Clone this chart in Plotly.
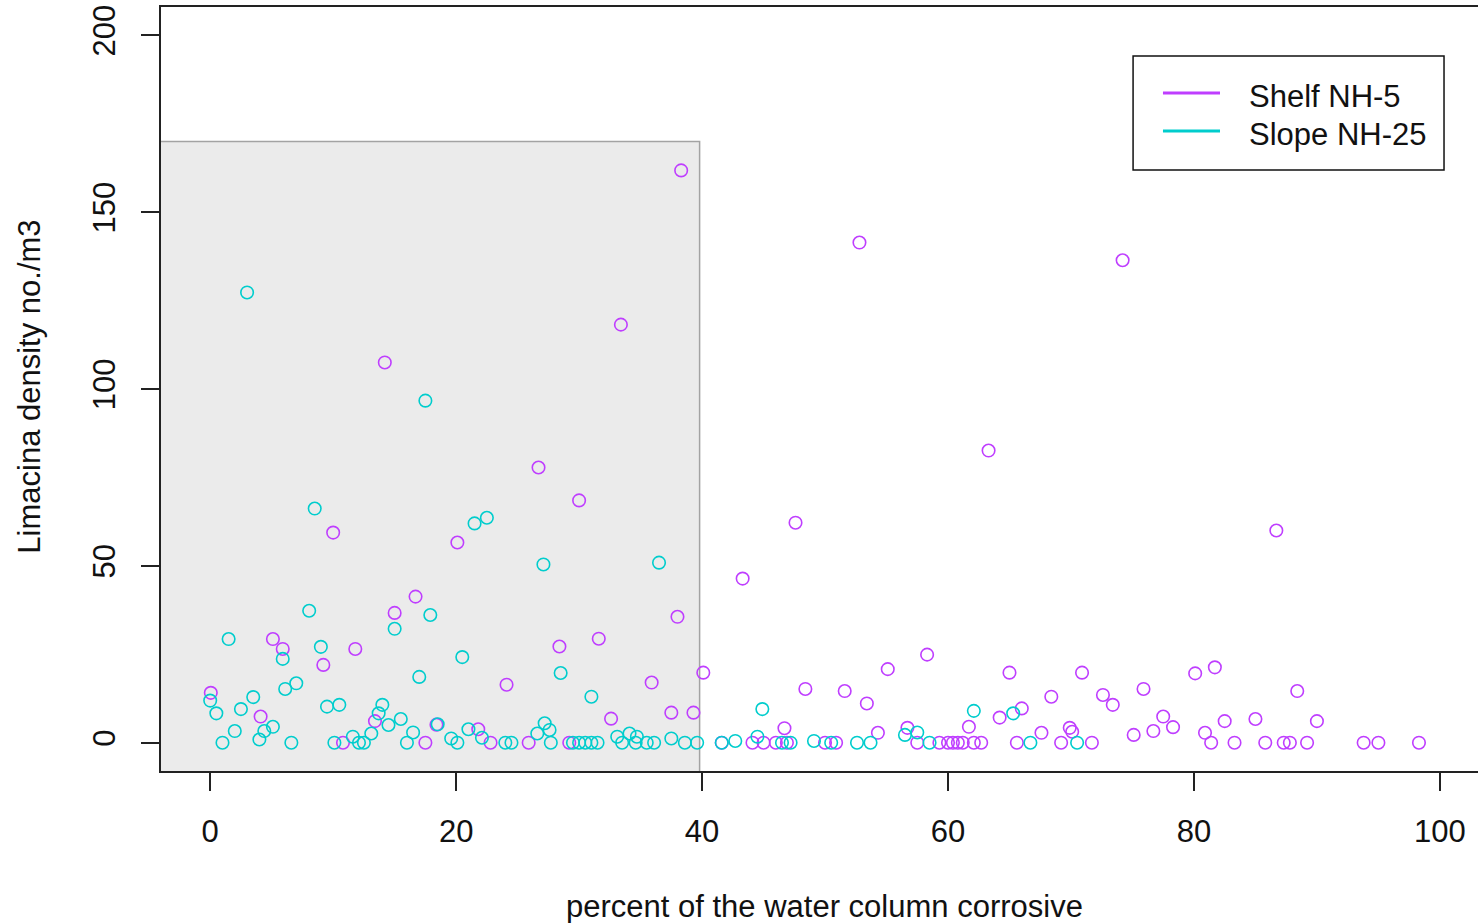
import plotly.graph_objects as go

# Shelf station NH-5: percent of water column corrosive vs Limacina density
shelf_pct = [0.05, 4.1, 5.1, 5.9, 9.2, 10.0, 10.8, 11.8, 13.4, 14.2, 15.0, 16.7, 17.5, 18.4,
             20.1, 21.8, 22.8, 24.1, 25.9, 26.7, 28.4, 29.2, 30.0, 31.6, 32.6, 33.4, 35.9,
             37.5, 38.0, 38.3, 39.3, 40.1, 41.6, 43.3, 44.1, 45.0, 46.0, 46.7, 46.9, 47.6,
             48.4, 50.0, 50.9, 51.6, 52.8, 53.4, 54.3, 55.1, 56.7, 57.5, 58.3, 59.3, 60.0,
             60.4, 60.8, 61.2, 61.7, 62.1, 62.7, 63.3, 64.2, 65.0, 65.6, 66.0, 67.6, 68.4,
             69.2, 69.9, 70.1, 70.9, 71.7, 72.6, 73.4, 74.2, 75.1, 75.9, 76.7, 77.5, 78.3,
             80.1, 80.9, 81.4, 81.7, 82.5, 83.3, 85.0, 85.8, 86.7, 87.3, 87.8, 88.4, 89.2,
             90.0, 93.8, 95.0, 98.3]
shelf_density = [14.1, 7.4, 29.3, 26.5, 22.0, 59.4, 0, 26.5, 6.1, 107.5, 36.7, 41.3, 0, 5.1,
                 56.6, 3.8, 0, 16.4, 0, 77.8, 27.2, 0, 68.5, 29.4, 6.8, 118.2, 17.0,
                 8.5, 35.6, 161.8, 8.5, 19.8, 0, 46.4, 0, 0, 0, 4.1, 0, 62.2,
                 15.2, 0, 0, 14.6, 141.4, 11.1, 2.8, 20.8, 4.2, 0, 24.9, 0, 0,
                 0, 0, 0, 4.5, 0, 0, 82.6, 7.1, 19.8, 0, 9.7, 2.8, 13.0,
                 0, 4.2, 3.1, 19.8, 0, 13.5, 10.7, 136.4, 2.2, 15.2, 3.3, 7.4, 4.4,
                 19.6, 2.8, 0, 21.3, 6.1, 0, 6.7, 0, 60.0, 0, 0, 14.6, 0,
                 6.1, 0, 0, 0]

# Slope station NH-25
slope_pct = [0.0, 0.5, 1.0, 1.5, 2.0, 2.5, 3.0, 3.5, 4.0, 4.4, 5.1, 5.9, 6.1, 6.6, 7.0, 8.05,
             8.5, 9.0, 9.5, 10.1, 10.5, 11.6, 12.1, 12.5, 13.1, 13.7, 14.0, 14.5, 15.0, 15.5,
             16.0, 16.5, 17.0, 17.5, 17.9, 18.5, 19.6, 20.1, 20.5, 21.0, 21.5, 22.1, 22.5,
             24.0, 24.5, 26.6, 27.1, 27.2, 27.6, 27.7, 28.5, 29.5, 30.0, 30.5, 31.0, 31.0,
             31.5, 33.1, 33.5, 34.1, 34.6, 34.7, 35.5, 36.1, 36.5, 37.5, 38.6, 39.6, 41.6,
             42.7, 44.5, 44.9, 46.5, 47.2, 49.1, 50.5, 52.6, 53.7, 56.5, 57.5, 58.5, 62.1,
             65.3, 66.7, 70.5]
slope_density = [11.9, 8.3, 0, 29.3, 3.3, 9.5, 127.3, 12.9, 0.9, 3.3, 4.5, 23.7, 15.2, 0, 16.8, 37.3,
                 66.2, 27.1, 10.2, 0, 10.7, 1.7, 0, 0, 2.6, 8.3, 10.7, 5.0, 32.2, 6.7,
                 0, 2.9, 18.6, 96.7, 36.1, 5.2, 1.2, 0, 24.2, 3.8, 62.0, 1.4, 63.6,
                 0, 0, 2.6, 50.4, 5.5, 3.6, 0, 19.7, 0, 0, 0, 0, 13.0,
                 0, 1.7, 0, 2.6, 0, 1.7, 0, 0, 50.9, 1.2, 0, 0, 0,
                 0.5, 1.7, 9.5, 0, 0, 0.5, 0, 0, 0, 2.2, 2.9, 0, 9.0,
                 8.3, 0, 0]

series_names = ["Shelf NH-5", "Slope NH-25"]
series_colors = ["#BF3EFF", "#00CDCD"]

x_ticks = [0, 20, 40, 60, 80, 100]
y_ticks = [0, 50, 100, 150, 200]

FONT = "Liberation Sans, Arial, sans-serif"
INK = "#111111"

fig = go.Figure()

for name, xs, ys, col in [(series_names[0], shelf_pct, shelf_density, series_colors[0]),
                          (series_names[1], slope_pct, slope_density, series_colors[1])]:
    fig.add_trace(go.Scatter(
        x=xs, y=ys, mode="markers", name=name, showlegend=False,
        marker=dict(symbol="circle-open", size=12.5, color=col, line=dict(width=1.6, color=col)),
    ))

# shaded region: first 40 percent of the water column
fig.add_shape(type="rect", xref="x", yref="y", x0=-5, x1=39.8, y0=-10, y1=170,
              fillcolor="#EBEBEB", line=dict(color="#A3A3A3", width=1.5), layer="below")

# legend box drawn in paper coordinates
fig.add_shape(type="rect", xref="paper", yref="paper", x0=0.7381, x1=0.9742,
              y0=0.7866, y1=0.9359, line=dict(color="#111111", width=1.5),
              fillcolor="white")
for i, (name, col) in enumerate(zip(series_names, series_colors)):
    ly = 0.8874 - i * 0.0497
    fig.add_shape(type="line", xref="paper", yref="paper", x0=0.7608, x1=0.8041,
                  y0=ly, y1=ly, line=dict(color=col, width=3))
    fig.add_annotation(text=name, xref="paper", yref="paper", x=0.8246, y=ly - 0.004,
                       xanchor="left", yanchor="middle", showarrow=False,
                       font=dict(family=FONT, size=31, color=INK))

# axis titles
fig.add_annotation(text="percent of the water column corrosive", xref="paper", yref="paper",
                   x=0.5036, y=-0.178, xanchor="center", yanchor="middle", showarrow=False,
                   font=dict(family=FONT, size=31, color=INK))
fig.add_annotation(text="Limacina density no./m3", xref="paper", yref="paper",
                   x=-0.0995, y=0.503, xanchor="center", yanchor="middle", showarrow=False,
                   textangle=-90, font=dict(family=FONT, size=31, color=INK))

fig.update_layout(
    width=1478, height=923,
    margin=dict(l=161, r=0, t=7, b=152),
    paper_bgcolor="white", plot_bgcolor="white",
    font=dict(family=FONT, size=31, color=INK),
    xaxis=dict(range=[-4, 103.1], tickvals=x_ticks, ticks="outside", ticklen=18,
               tickwidth=1.5, tickcolor="#222", showgrid=False, zeroline=False,
               showline=True, linecolor="#222", linewidth=2, mirror=True,
               ticklabelstandoff=14, tickfont=dict(size=31)),
    yaxis=dict(range=[-8, 208], tickvals=y_ticks, ticks="outside", ticklen=18,
               tickwidth=1.5, tickcolor="#222", showgrid=False, zeroline=False,
               showline=True, linecolor="#222", linewidth=2, mirror=False,
               tickangle=-90, ticklabelstandoff=14, tickfont=dict(size=31)),
)

fig.write_html("out.html")
